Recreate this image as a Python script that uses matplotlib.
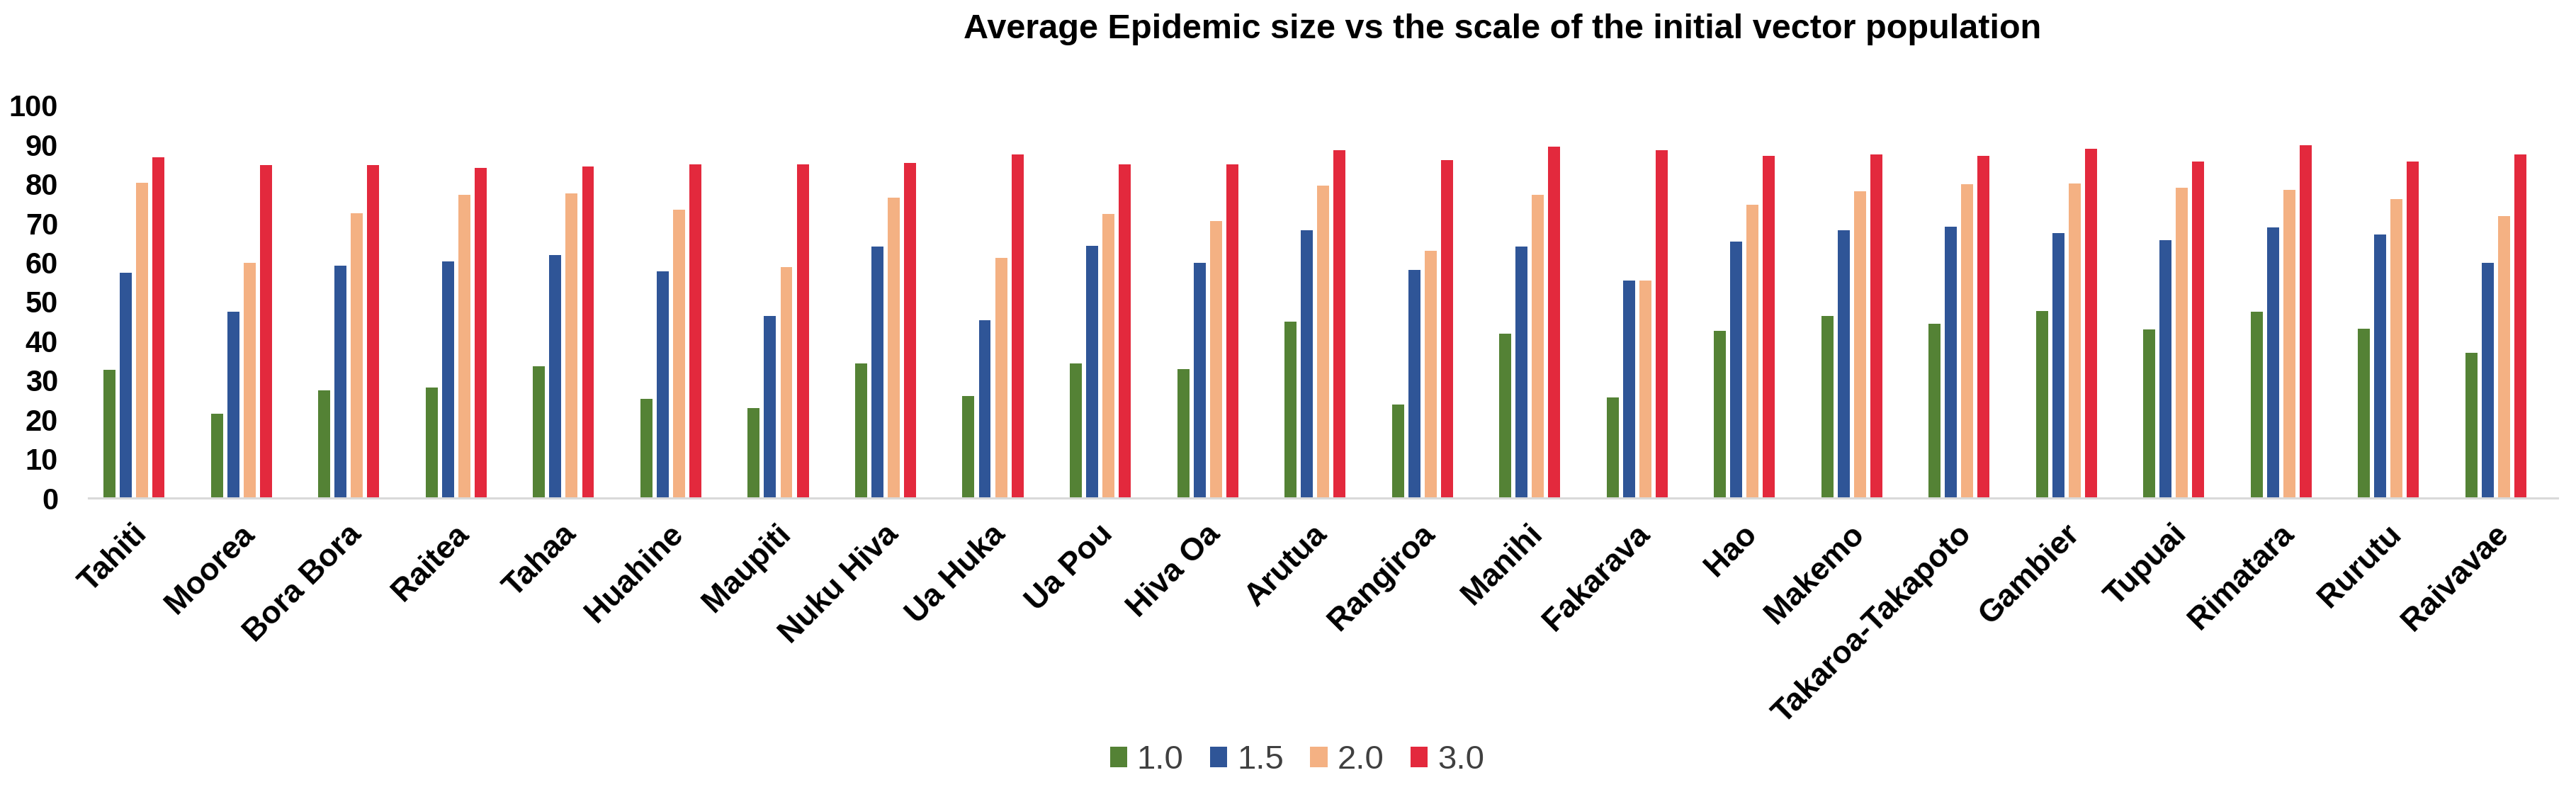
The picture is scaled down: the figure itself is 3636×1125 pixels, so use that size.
import numpy as np
import matplotlib
matplotlib.use("Agg")
import matplotlib.pyplot as plt

plt.rcParams['font.family'] = ['Liberation Sans Narrow', 'Liberation Sans', 'DejaVu Sans']

islands = ['Tahiti', 'Moorea', 'Bora Bora', 'Raitea', 'Tahaa', 'Huahine', 'Maupiti',
           'Nuku Hiva', 'Ua Huka', 'Ua Pou', 'Hiva Oa', 'Arutua', 'Rangiroa', 'Manihi',
           'Fakarava', 'Hao', 'Makemo', 'Takaroa-Takapoto', 'Gambier', 'Tupuai',
           'Rimatara', 'Rurutu', 'Raivavae']

scales = ['1.0', '1.5', '2.0', '3.0']

size_10 = [32.6, 21.5, 27.4, 28.1, 33.6, 25.3, 22.9, 34.3, 26.0, 34.3, 32.9, 45.0,
           23.9, 41.9, 25.7, 42.6, 46.3, 44.4, 47.7, 42.9, 47.4, 43.2, 37.0]
size_15 = [57.4, 47.4, 59.2, 60.3, 61.9, 57.8, 46.3, 64.1, 45.3, 64.3, 59.9, 68.2,
           58.1, 64.1, 55.4, 65.4, 68.2, 69.2, 67.5, 65.7, 68.9, 67.2, 59.9]
size_20 = [80.3, 59.9, 72.6, 77.2, 77.6, 73.4, 58.8, 76.5, 61.2, 72.3, 70.6, 79.6,
           63.0, 77.2, 55.4, 74.8, 78.2, 79.9, 80.2, 79.1, 78.6, 76.1, 71.9]
size_30 = [86.8, 84.8, 84.8, 84.1, 84.4, 85.1, 85.1, 85.4, 87.5, 85.1, 85.1, 88.6,
           86.1, 89.6, 88.6, 87.2, 87.5, 87.2, 88.9, 85.7, 89.9, 85.7, 87.5]

colors = ['#548235', '#2F5597', '#F4B183', '#E3293D']

fig = plt.figure(figsize=(36.37, 11.25), dpi=100)
ax = fig.add_axes([0.0344, 0.3751, 0.9582, 0.4925])

x = np.arange(len(islands))
slot = 0.152
width = 0.112
series = [size_10, size_15, size_20, size_30]
for i, vals in enumerate(series):
    # Excel layout leaves room for a fifth (empty) slot, so groups sit left of centre
    ax.bar(x + (i - 2) * slot, vals, width, color=colors[i], label=scales[i])

ax.set_xlim(-0.5, len(islands) - 0.5)
ax.set_ylim(0, 100)
ax.set_yticks(range(0, 101, 10))
ax.tick_params(axis='y', length=0, pad=31, labelsize=30)
ax.tick_params(axis='x', length=0, pad=32, labelsize=32)
for lab in ax.get_yticklabels():
    lab.set_fontweight('bold')

ax.set_xticks(x)
ax.set_xticklabels(islands, fontweight='bold', rotation=45, ha='right', va='center',
                   rotation_mode='anchor')

for s in ['top', 'right', 'left']:
    ax.spines[s].set_visible(False)
ax.spines['bottom'].set_color('#D9D9D9')
ax.spines['bottom'].set_linewidth(2.2)

fig.text(0.583, 0.963, 'Average Epidemic size vs the scale of the initial vector population',
         ha='center', va='center', fontsize=35, fontweight='bold')

leg = fig.legend(loc='center', bbox_to_anchor=(0.5034, 0.0462), ncol=4, frameon=False,
                 fontsize=34, handlelength=0.51, handleheight=0.57, handletextpad=0.3,
                 columnspacing=0.79)
for t in leg.get_texts():
    t.set_color('#404040')

fig.savefig('out.png', dpi=100)
